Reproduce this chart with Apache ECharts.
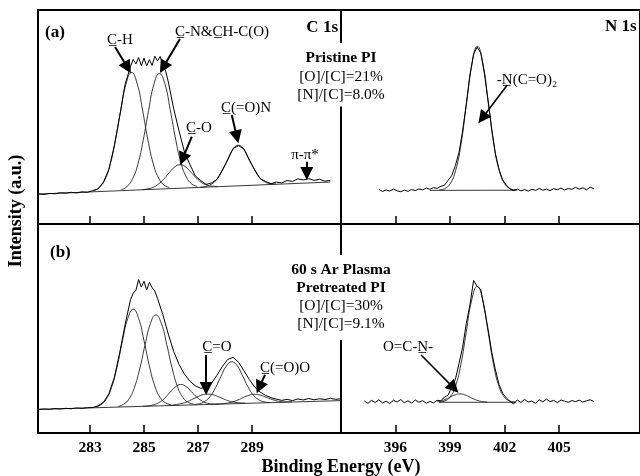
<!DOCTYPE html>
<html>
<head>
<meta charset="utf-8">
<script src="https://cdn.jsdelivr.net/npm/echarts@6/dist/echarts.min.js"></script>
<style>
html,body{margin:0;padding:0;background:#fff}
#chart{width:640px;height:476px}
</style>
</head>
<body>
<div id="chart"></div>
<script>
// tick labels
const cTicks = [283, 285, 287, 289];
const nTicks = [396, 399, 402, 405];

// (a) pristine PI, C 1s : measured spectrum
const aC_E = [281.1, 281.3, 281.5, 281.7, 281.9, 282.1, 282.3, 282.5, 282.7, 282.9, 283.1, 283.3, 283.5, 283.7, 283.9, 284.1, 284.3, 284.5, 284.6, 284.7, 284.8, 284.9, 285.0, 285.1, 285.2, 285.3, 285.4, 285.5, 285.6, 285.7, 285.8, 285.9, 286.1, 286.3, 286.5, 286.7, 286.9, 287.1, 287.3, 287.5, 287.7, 287.9, 288.1, 288.3, 288.5, 288.7, 288.9, 289.1, 289.3, 289.5, 289.7, 289.9, 290.1, 290.3, 290.5, 290.7, 290.9, 291.1, 291.3, 291.5, 291.7, 291.9];
const aC_I = [14.0, 13.8, 14.3, 14.1, 14.6, 14.4, 14.8, 14.5, 15.0, 14.8, 15.6, 16.4, 19.7, 25.5, 36.6, 50.4, 65.3, 73.6, 76.9, 74.8, 77.8, 74.0, 77.5, 73.9, 76.8, 74.1, 78.4, 76.2, 78.3, 74.2, 71.5, 66.4, 53.8, 43.4, 33.6, 27.8, 22.5, 20.3, 18.5, 19.2, 20.8, 25.2, 29.9, 35.3, 36.6, 35.1, 29.8, 25.4, 21.2, 19.9, 18.8, 19.6, 19.2, 20.3, 19.9, 21.1, 20.6, 21.2, 20.4, 20.9, 20.0, 20.4];
const aC_baseE = [281.1, 291.9];
const aC_baseI = [14.0, 19.6];
// fitted components
const aC_CH_E = [283.14, 283.34, 283.54, 283.74, 283.94, 284.14, 284.34, 284.54, 284.74, 284.94, 285.14, 285.34, 285.54, 285.74, 285.94];
const aC_CH_I = [15.6, 17.0, 20.4, 27.5, 39.0, 53.3, 65.7, 70.8, 65.9, 53.7, 39.6, 28.3, 21.5, 18.2, 17.1];
const aC_CN_E = [284.17, 284.37, 284.57, 284.77, 284.97, 285.17, 285.37, 285.57, 285.77, 285.97, 286.17, 286.37, 286.57, 286.77, 286.97];
const aC_CN_I = [16.1, 17.5, 20.9, 27.8, 39.1, 53.1, 65.4, 70.3, 65.6, 53.5, 39.7, 28.6, 21.9, 18.7, 17.6];
const aC_CO_E = [284.93, 285.13, 285.33, 285.53, 285.73, 285.93, 286.13, 286.33, 286.53, 286.73, 286.93, 287.13, 287.33, 287.53, 287.73];
const aC_CO_I = [16.1, 16.4, 17.1, 18.6, 20.9, 23.9, 26.6, 27.7, 26.8, 24.3, 21.6, 19.4, 18.2, 17.7, 17.5];
const aC_CON_E = [287.09, 287.29, 287.49, 287.69, 287.89, 288.09, 288.29, 288.49, 288.69, 288.89, 289.09, 289.29, 289.49, 289.69, 289.89];
const aC_CON_I = [17.2, 17.6, 18.6, 20.8, 24.7, 30.0, 34.8, 36.8, 35.0, 30.4, 25.3, 21.6, 19.6, 18.9, 18.7];

// (a) pristine PI, N 1s
const aN_E = [395.1, 395.3, 395.5, 395.7, 395.9, 396.1, 396.3, 396.5, 396.7, 396.9, 397.1, 397.3, 397.5, 397.7, 397.9, 398.1, 398.3, 398.5, 398.7, 398.9, 399.1, 399.3, 399.5, 399.7, 399.9, 400.1, 400.3, 400.5, 400.7, 400.9, 401.1, 401.3, 401.5, 401.7, 401.9, 402.1, 402.3, 402.5, 402.7, 402.9, 403.1, 403.3, 403.5, 403.7, 403.9, 404.1, 404.3, 404.5, 404.7, 404.9, 405.1, 405.3, 405.5, 405.7, 405.9, 406.1, 406.3, 406.5, 406.7, 406.9];
const aN_I = [16.2, 15.2, 15.9, 15.4, 16.3, 15.5, 15.1, 15.8, 15.3, 16.1, 15.6, 16.4, 15.9, 16.8, 16.2, 17.0, 16.6, 17.6, 18.1, 20.4, 22.6, 27.3, 33.4, 43.5, 55.9, 69.1, 79.4, 82.6, 79.8, 70.0, 57.5, 44.3, 32.8, 25.4, 20.6, 18.2, 16.4, 15.6, 16.3, 15.5, 16.1, 15.4, 16.2, 15.7, 16.6, 15.8, 16.3, 15.6, 16.5, 16.0, 16.8, 15.9, 16.6, 16.2, 17.1, 16.3, 16.9, 16.0, 17.2, 16.5];
const aN_baseE = [397.9, 402.7];
const aN_baseI = [15.7, 15.8];
const aN_NCO_E = [398.41, 398.71, 399.01, 399.31, 399.61, 399.91, 400.21, 400.51, 400.81, 401.11, 401.41, 401.71, 402.01, 402.31, 402.61];
const aN_NCO_I = [15.9, 16.5, 18.7, 24.9, 37.3, 56.4, 75.0, 83.0, 75.1, 56.5, 37.4, 25.0, 18.8, 16.5, 15.9];

// (b) 60 s Ar plasma pretreated PI, C 1s
const bC_E = [281.1, 281.3, 281.5, 281.7, 281.9, 282.1, 282.3, 282.5, 282.7, 282.9, 283.1, 283.3, 283.5, 283.7, 283.9, 284.1, 284.3, 284.5, 284.6, 284.7, 284.8, 284.9, 285.0, 285.1, 285.2, 285.3, 285.4, 285.5, 285.7, 285.9, 286.1, 286.3, 286.5, 286.7, 286.9, 287.1, 287.3, 287.5, 287.7, 287.9, 288.1, 288.3, 288.5, 288.7, 288.9, 289.1, 289.3, 289.5, 289.7, 289.9, 290.1, 290.3, 290.5, 290.7, 290.9, 291.1, 291.3, 291.5, 291.7, 291.9, 292.1, 292.3];
const bC_I = [11.3, 11.5, 11.3, 11.7, 11.5, 11.8, 11.6, 12.0, 11.8, 12.1, 12.2, 13.0, 14.7, 18.8, 26.6, 38.4, 51.9, 63.8, 66.9, 68.3, 73.4, 69.8, 72.6, 68.4, 72.1, 69.6, 67.9, 64.4, 56.6, 47.3, 39.0, 32.8, 28.1, 24.8, 22.6, 21.4, 21.9, 23.8, 27.6, 31.8, 35.2, 36.2, 33.9, 29.8, 25.6, 22.0, 19.6, 18.0, 16.9, 16.2, 15.6, 16.1, 15.5, 16.3, 15.8, 16.5, 15.9, 16.4, 16.0, 16.6, 16.1, 16.4];
const bC_baseE = [281.1, 292.3];
const bC_baseI = [11.3, 15.5];
const bC_CH_E = [283.2, 283.4, 283.6, 283.8, 284.0, 284.2, 284.4, 284.6, 284.8, 285.0, 285.2, 285.4, 285.6, 285.8, 286.0];
const bC_CH_I = [12.5, 13.5, 16.2, 21.9, 31.5, 43.9, 54.8, 59.2, 54.9, 44.2, 32.0, 22.5, 16.9, 14.4, 13.5];
const bC_CN_E = [284.04, 284.24, 284.44, 284.64, 284.84, 285.04, 285.24, 285.44, 285.64, 285.84, 286.04, 286.24, 286.44, 286.64, 286.84];
const bC_CN_I = [12.7, 13.7, 16.2, 21.6, 30.6, 42.2, 52.4, 56.5, 52.5, 42.5, 31.1, 22.2, 17.0, 14.6, 13.8];
const bC_CO_E = [284.96, 285.16, 285.36, 285.56, 285.76, 285.96, 286.16, 286.36, 286.56, 286.76, 286.96, 287.16, 287.36, 287.56, 287.76];
const bC_CO_I = [12.8, 13.0, 13.5, 14.6, 16.6, 19.4, 22.0, 23.2, 22.2, 19.7, 17.1, 15.2, 14.2, 13.9, 13.8];
const bC_CdO_E = [285.95, 286.15, 286.35, 286.55, 286.75, 286.95, 287.15, 287.35, 287.55, 287.75, 287.95, 288.15, 288.35, 288.55, 288.75];
const bC_CdO_I = [13.2, 13.5, 14.0, 14.7, 15.9, 17.1, 18.2, 18.6, 18.3, 17.4, 16.3, 15.3, 14.7, 14.4, 14.3];
const bC_CON_E = [286.85, 287.05, 287.25, 287.45, 287.65, 287.85, 288.05, 288.25, 288.45, 288.65, 288.85, 289.05, 289.25, 289.45, 289.65];
const bC_CON_I = [13.6, 14.0, 15.1, 17.5, 21.7, 27.1, 32.0, 34.1, 32.2, 27.4, 22.1, 18.1, 15.9, 14.9, 14.6];
const bC_COO_E = [287.68, 287.88, 288.08, 288.28, 288.48, 288.68, 288.88, 289.08, 289.28, 289.48, 289.68, 289.88, 290.08, 290.28, 290.48];
const bC_COO_I = [13.8, 14.0, 14.3, 14.9, 15.8, 17.0, 18.0, 18.5, 18.2, 17.3, 16.3, 15.5, 15.0, 14.9, 14.9];

// (b) 60 s Ar plasma pretreated PI, N 1s
const bN_E = [394.3, 394.5, 394.7, 394.9, 395.1, 395.3, 395.5, 395.7, 395.9, 396.1, 396.3, 396.5, 396.7, 396.9, 397.1, 397.3, 397.5, 397.7, 397.9, 398.1, 398.3, 398.5, 398.7, 398.9, 399.1, 399.3, 399.5, 399.7, 399.9, 400.1, 400.3, 400.5, 400.7, 400.9, 401.1, 401.3, 401.5, 401.7, 401.9, 402.1, 402.3, 402.5, 402.7, 402.9, 403.1, 403.3, 403.5, 403.7, 403.9, 404.1, 404.3, 404.5, 404.7, 404.9, 405.1, 405.3, 405.5, 405.7, 405.9, 406.1, 406.3, 406.5, 406.7, 406.9];
const bN_I = [15.3, 14.2, 15.6, 14.6, 15.9, 14.4, 15.2, 14.1, 15.7, 14.8, 16.0, 14.5, 15.4, 14.3, 15.8, 14.7, 15.5, 14.2, 15.1, 14.4, 15.6, 15.4, 17.2, 18.1, 21.9, 25.6, 33.2, 41.0, 52.4, 61.2, 73.0, 70.1, 68.6, 59.0, 49.5, 38.6, 30.2, 23.2, 19.0, 16.8, 15.1, 13.9, 15.8, 14.6, 16.1, 14.8, 15.3, 14.2, 15.9, 14.9, 16.2, 15.0, 15.6, 14.5, 15.8, 15.2, 14.7, 15.5, 15.0, 15.7, 14.8, 15.4, 15.9, 15.1];
const bN_baseE = [398.4, 402.6];
const bN_baseI = [14.7, 14.7];
const bN_main_E = [398.4, 398.7, 399.0, 399.3, 399.6, 399.9, 400.2, 400.5, 400.8, 401.1, 401.4, 401.7, 402.0, 402.3, 402.6];
const bN_main_I = [14.8, 15.3, 17.1, 22.2, 32.7, 48.4, 63.7, 70.2, 63.7, 48.4, 32.7, 22.2, 17.1, 15.3, 14.8];
const bN_OCN_E = [398.3, 398.55, 398.8, 399.05, 399.3, 399.55, 399.8, 400.05, 400.3, 400.55, 400.8, 401.05];
const bN_OCN_I = [15.0, 15.5, 16.3, 17.4, 18.3, 18.7, 18.3, 17.4, 16.3, 15.5, 15.0, 14.8];

// annotation arrows: [start, end] in data units of each panel
const arrowsAC = [[[283.93, 82.7], [284.39, 73.1]], [[286.33, 86.4], [285.71, 73.2]], [[286.77, 40.8], [286.43, 30.4]], [[288.25, 50.9], [288.44, 40.7]], [[291.03, 29.1], [291.03, 23.6]]];
const arrowsAN = [[[402.15, 65.0], [400.78, 49.5]]];
const arrowsBC = [[[287.30, 37.3], [287.30, 21.3]], [[289.48, 27.8], [289.27, 21.8]]];
const arrowsBN = [[[397.42, 37.3], [399.22, 21.5]]];

const serif = "'Liberation Serif', 'Times New Roman', serif";
const U = '\u0332';

function xy(xs, ys) { return xs.map((x, i) => [x, ys[i]]); }

function comp(g, xs, ys) {
  return { type: 'line', xAxisIndex: g, yAxisIndex: g, data: xy(xs, ys), showSymbol: false, symbol: 'none',
    smooth: true, silent: true, z: 2, lineStyle: { color: '#222', width: 0.9 } };
}
function base(g, xs, ys) {
  return { type: 'line', xAxisIndex: g, yAxisIndex: g, data: xy(xs, ys), showSymbol: false, symbol: 'none',
    silent: true, z: 2, lineStyle: { color: '#222', width: 0.9 } };
}
function raw(g, xs, ys, arrows, aw) {
  return { type: 'line', xAxisIndex: g, yAxisIndex: g, data: xy(xs, ys), showSymbol: false, symbol: 'none',
    silent: true, z: 3, lineStyle: { color: '#000', width: 1 },
    markLine: { silent: true, animation: false, symbol: ['none', 'triangle'], symbolSize: 13,
      lineStyle: { color: '#000', width: aw, type: 'solid' }, label: { show: false },
      emphasis: { disabled: true },
      data: arrows.map(a => [{ coord: a[0] }, { coord: a[1] }]) } };
}
function xAxis(g, min, max, ticks, labels) {
  return { type: 'value', gridIndex: g, min: min, max: max, axisLine: { show: false }, splitLine: { show: false },
    axisTick: { show: true, inside: true, length: 8, customValues: ticks, lineStyle: { color: '#000', width: 1.5 } },
    axisLabel: { show: labels, customValues: ticks, margin: 7, color: '#000', fontFamily: serif, fontWeight: 'bold', fontSize: 15.5 } };
}
function yAxis(g) { return { type: 'value', gridIndex: g, min: 0, max: 100, show: false }; }
function txt(x, y, text, font, align, valign, extra) {
  return Object.assign({ type: 'text', x: x, y: y, z: 100,
    style: { text: text, font: font, fill: '#000', textAlign: align || 'center', textVerticalAlign: valign || 'middle' } }, extra || {});
}

const gridStyle = { show: true, borderColor: '#000', borderWidth: 2, backgroundColor: 'transparent' };
const chart = echarts.init(document.getElementById('chart'));
chart.setOption({
  animation: false,
  backgroundColor: '#fff',
  grid: [
    Object.assign({ left: 38, top: 10, width: 303, height: 214 }, gridStyle),
    Object.assign({ left: 341, top: 10, width: 301, height: 214 }, gridStyle),
    Object.assign({ left: 38, top: 224, width: 303, height: 209 }, gridStyle),
    Object.assign({ left: 341, top: 224, width: 301, height: 209 }, gridStyle)
  ],
  xAxis: [
    xAxis(0, 281.074, 292.296, cTicks, false),
    xAxis(1, 393.02, 409.44, nTicks, false),
    xAxis(2, 281.074, 292.296, cTicks, true),
    xAxis(3, 393.02, 409.44, nTicks, true)
  ],
  yAxis: [yAxis(0), yAxis(1), yAxis(2), yAxis(3)],
  series: [
    base(0, aC_baseE, aC_baseI),
    comp(0, aC_CH_E, aC_CH_I), comp(0, aC_CN_E, aC_CN_I), comp(0, aC_CO_E, aC_CO_I), comp(0, aC_CON_E, aC_CON_I),
    raw(0, aC_E, aC_I, arrowsAC, 2),
    base(1, aN_baseE, aN_baseI),
    comp(1, aN_NCO_E, aN_NCO_I),
    raw(1, aN_E, aN_I, arrowsAN, 1.6),
    base(2, bC_baseE, bC_baseI),
    comp(2, bC_CH_E, bC_CH_I), comp(2, bC_CN_E, bC_CN_I), comp(2, bC_CO_E, bC_CO_I),
    comp(2, bC_CdO_E, bC_CdO_I), comp(2, bC_CON_E, bC_CON_I), comp(2, bC_COO_E, bC_COO_I),
    raw(2, bC_E, bC_I, arrowsBC, 2),
    base(3, bN_baseE, bN_baseI),
    comp(3, bN_main_E, bN_main_I), comp(3, bN_OCN_E, bN_OCN_I),
    raw(3, bN_E, bN_I, arrowsBN, 1.6)
  ],
  graphic: [
    txt(16, 211, 'Intensity (a.u.)', 'bold 18px ' + serif, 'center', 'middle', { rotation: Math.PI / 2 }),
    txt(341, 467, 'Binding Energy (eV)', 'bold 18px ' + serif),
    txt(45, 33, '(a)', 'bold 17px ' + serif, 'left'),
    txt(50, 253, '(b)', 'bold 17px ' + serif, 'left'),
    txt(338, 28, 'C 1s', 'bold 17px ' + serif, 'right'),
    txt(605, 27, 'N 1s', 'bold 17px ' + serif, 'left'),
    { type: 'text', x: 341, y: 43, z: 100, style: {
        text: '{b|Pristine PI}\n{r|[O]/[C]=21%}\n{r|[N]/[C]=8.0%}', textAlign: 'center', textVerticalAlign: 'top',
        backgroundColor: '#fff', padding: [6, 4, 2, 4],
        rich: { b: { font: 'bold 15.5px ' + serif, lineHeight: 18.5, fill: '#000', align: 'center' },
                r: { font: '15.5px ' + serif, lineHeight: 18.5, fill: '#000', align: 'center' } } } },
    { type: 'text', x: 341, y: 255, z: 100, style: {
        text: '{b|60 s Ar Plasma}\n{b|Pretreated PI}\n{r|[O]/[C]=30%}\n{r|[N]/[C]=9.1%}', textAlign: 'center', textVerticalAlign: 'top',
        backgroundColor: '#fff', padding: [6, 4, 7, 4],
        rich: { b: { font: 'bold 15.5px ' + serif, lineHeight: 18, fill: '#000', align: 'center' },
                r: { font: '15.5px ' + serif, lineHeight: 18, fill: '#000', align: 'center' } } } },
    txt(120, 40, 'C' + U + '-H', '15px ' + serif),
    txt(222, 32, 'C' + U + '-N&C' + U + 'H-C(O)', '15px ' + serif),
    txt(199, 128, 'C' + U + '-O', '15px ' + serif),
    txt(246, 108, 'C' + U + '(=O)N', '15px ' + serif),
    txt(305, 155, '\u03c0-\u03c0*', '15px ' + serif),
    txt(527, 80, '-N' + U + '(C=O)\u2082', '15px ' + serif),
    txt(217, 347, 'C' + U + '=O', '15px ' + serif),
    txt(285, 368, 'C' + U + '(=O)O', '15px ' + serif),
    txt(408, 347, 'O=C-N' + U + '-', '15px ' + serif)
  ]
});
</script>
</body>
</html>
